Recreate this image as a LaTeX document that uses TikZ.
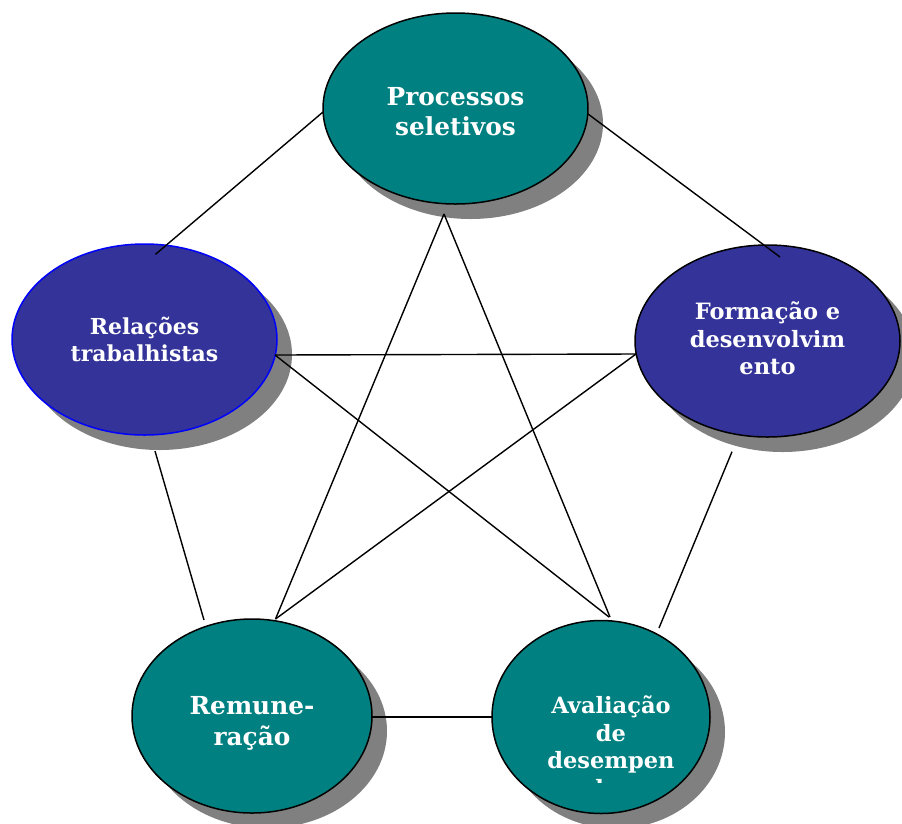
\documentclass[tikz,border=0pt]{standalone}
\usepackage{fontspec}
\setmainfont{DejaVu Serif}
\usetikzlibrary{shapes.geometric,shadows,calc}
\definecolor{tealfill}{HTML}{008080}
\definecolor{navyfill}{HTML}{333399}
\definecolor{shadowgray}{HTML}{808080}
\definecolor{bluerim}{HTML}{0000FF}
\tikzset{
  bubble/.style={ellipse, inner sep=0pt, line width=1.5pt, draw=black,
    drop shadow={shadow xshift=15pt, shadow yshift=-15pt, fill=shadowgray, opacity=1}},
  tealbubble/.style={bubble, fill=tealfill},
  navybubble/.style={bubble, fill=navyfill},
  txt/.style={text=white, align=center, inner sep=0pt, anchor=north, font=\bfseries},
  link/.style={draw=black, line width=1.4pt}
}
\begin{document}
\begin{tikzpicture}[x=1pt,y=-1pt]
\useasboundingbox[fill=white] (0,0) rectangle (902,823);

% ellipses
\node[tealbubble, minimum width=265pt, minimum height=191pt] (P) at (455.5,108.5) {};
\node[navybubble, draw=bluerim, minimum width=265pt, minimum height=191pt] (R) at (144.5,339.5) {};
\node[navybubble, minimum width=265pt, minimum height=192pt] (F) at (767.5,341) {};
\node[tealbubble, minimum width=240pt, minimum height=194pt] (M) at (252,716) {};
\node[tealbubble, minimum width=218pt, minimum height=193pt] (A) at (601,717) {};

% texts
\node[txt, font=\bfseries\fontsize{24.8}{30}\selectfont] (Pt) at ($(P.center)+(0,-21.5)$) {Processos\\seletivos};
\node[txt, font=\bfseries\fontsize{22}{27}\selectfont] (Rt) at ($(R.center)+(0,-23)$) {Relações\\trabalhistas};
\node[txt, font=\bfseries\fontsize{22.5}{27.5}\selectfont] (Ft) at ($(F.center)+(0,-39.5)$) {Formação e\\desenvolvim\\ento};
\node[txt, font=\bfseries\fontsize{24.8}{31}\selectfont] (Mt) at ($(M.center)+(0,-19.5)$) {Remune-\\ração};
\begin{scope}
  \clip ($(A.center)+(-110,-100)$) rectangle ($(A.center)+(120,65)$);
  \node[txt, font=\bfseries\fontsize{22.5}{27.5}\selectfont] (At) at ($(A.center)+(10,-21.5)$) {Avaliação\\de\\desempen\\ho};
\end{scope}

% connectors
\draw[link] ($(P.center)+(-132.5,3.5)$) -- ($(R.center)+(11,-85.2)$);
\draw[link] ($(P.center)+(132.5,5.5)$) -- ($(F.center)+(12.5,-84)$);
\draw[link] ($(P.center)+(-11.5,105.5)$) -- ($(M.center)+(23.5,-97)$);
\draw[link] ($(P.center)+(-11.5,105.5)$) -- ($(A.center)+(9,-100)$);
\draw[link] ($(R.center)+(130.5,15.5)$) -- ($(F.center)+(-131.5,13)$);
\draw[link] ($(R.center)+(130.5,15.5)$) -- ($(A.center)+(8,-100)$);
\draw[link] ($(F.center)+(-131.5,13)$) -- ($(M.center)+(23.5,-97)$);
\draw[link] ($(R.center)+(10.5,111.5)$) -- ($(M.center)+(-48,-96)$);
\draw[link] ($(F.center)+(-35.5,110.7)$) -- ($(A.center)+(58,-89)$);
\draw[link] ($(M.center)+(120,1)$) -- ($(A.center)+(-109,0)$);
\end{tikzpicture}
\end{document}
